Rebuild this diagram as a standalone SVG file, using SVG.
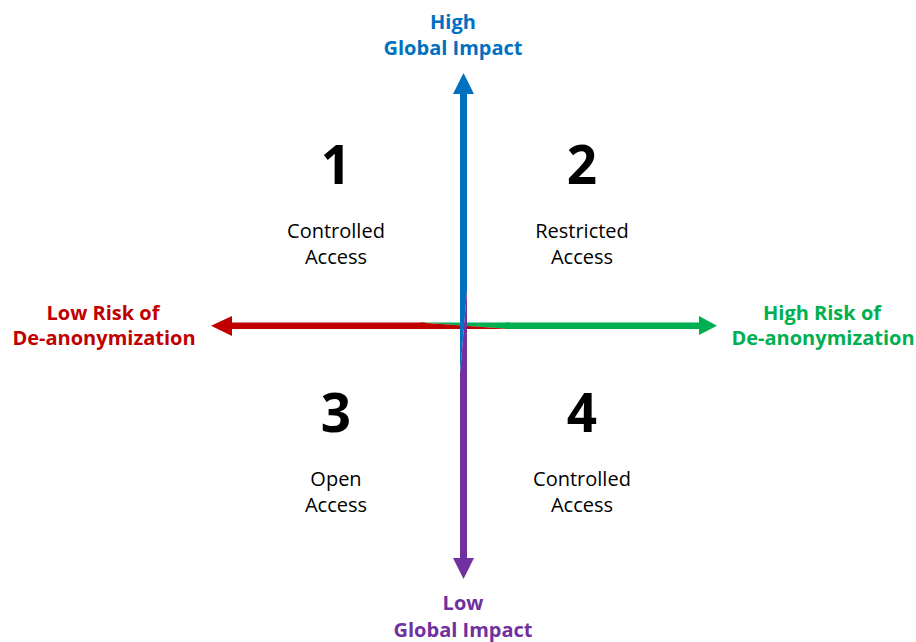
<svg xmlns="http://www.w3.org/2000/svg" width="916" height="642" viewBox="0 0 916 642">
<style>
.ax{font-family:"Open Sans","Liberation Sans",sans-serif;font-weight:700;font-size:20px;text-anchor:middle}
.num{font-family:"Open Sans","Liberation Sans",sans-serif;font-weight:700;font-size:53px;text-anchor:middle;fill:#000}
.lbl{font-family:"Open Sans","Liberation Sans",sans-serif;font-size:20px;text-anchor:middle;fill:#000}
</style>
<rect width="916" height="642" fill="#fff"/>
<g id="connectors">
  <!-- horizontal axis -->
  <rect x="230" y="322.5" width="195" height="6.5" fill="#C00000"/>
  <rect x="505" y="322.5" width="196" height="6.5" fill="#00B050"/>
  <polygon points="420,322.5 510,322.5 510,329" fill="#00B050"/>
  <polygon points="420,322.5 420,329 510,329" fill="#C00000"/>
  <polygon points="211,325.8 232,316 232,336" fill="#C00000"/>
  <polygon points="717,325.8 699,316 699,335" fill="#00B050"/>
  <!-- vertical axis -->
  <rect x="460" y="90" width="7" height="202" fill="#0070C0"/>
  <rect x="460" y="372" width="7" height="190" fill="#7030A0"/>
  <polygon points="460,290 467,290 460,375" fill="#0070C0"/>
  <polygon points="467,290 467,375 460,375" fill="#7030A0"/>
  <polygon points="463.5,73 453,94 474,94" fill="#0070C0"/>
  <polygon points="463.5,579 453,558 474,558" fill="#7030A0"/>
</g>
<g id="high-impact"><text class="ax" fill="#0070C0"><tspan x="453" y="29">High</tspan><tspan x="453" y="55">Global Impact</tspan></text></g>
<g id="low-impact"><text class="ax" fill="#7030A0"><tspan x="463" y="610">Low</tspan><tspan x="463" y="637">Global Impact</tspan></text></g>
<g id="low-risk"><text class="ax" fill="#C00000"><tspan x="103" y="320">Low Risk of</tspan><tspan x="104" y="345">De-anonymization</tspan></text></g>
<g id="high-risk"><text class="ax" fill="#00B050"><tspan x="822" y="320">High Risk of</tspan><tspan x="823" y="345">De-anonymization</tspan></text></g>
<g id="q1"><text class="num" x="336" y="184">1</text><text class="lbl"><tspan x="336" y="238">Controlled</tspan><tspan x="336" y="264">Access</tspan></text></g>
<g id="q2"><text class="num" x="582" y="184">2</text><text class="lbl"><tspan x="582" y="238">Restricted</tspan><tspan x="582" y="264">Access</tspan></text></g>
<g id="q3"><text class="num" x="336" y="432">3</text><text class="lbl"><tspan x="336" y="486">Open</tspan><tspan x="336" y="512">Access</tspan></text></g>
<g id="q4"><text class="num" x="582" y="432">4</text><text class="lbl"><tspan x="582" y="486">Controlled</tspan><tspan x="582" y="512">Access</tspan></text></g>
</svg>
